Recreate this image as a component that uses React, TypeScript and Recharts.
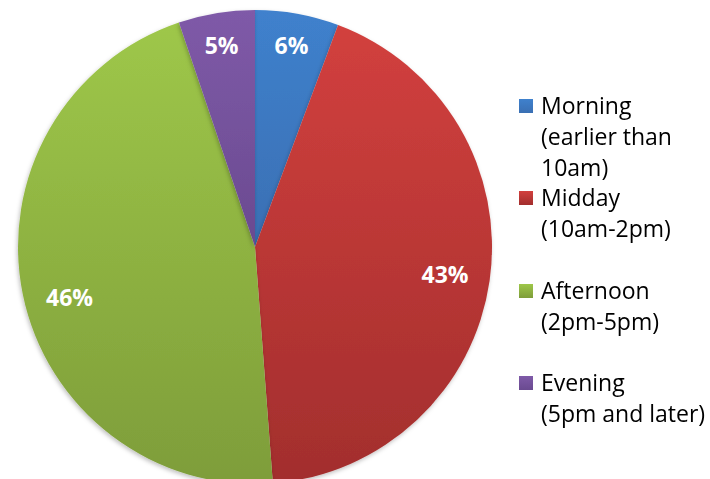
import { Cell, Legend, Pie, PieChart } from "recharts";

const categories = ["Morning", "Midday", "Afternoon", "Evening"];
const legendLines = [
  ["Morning", "(earlier than", "10am)"],
  ["Midday", "(10am-2pm)"],
  ["Afternoon", "(2pm-5pm)"],
  ["Evening", "(5pm and later)"],
];
const shares = [5.7, 43.1, 46.0, 5.2];
const topColors = ["#3F81CD", "#D2403E", "#9EC749", "#7F5AA8"];
const bottomColors = ["#3A6FB3", "#A22E2D", "#7E9D3A", "#6A4A90"];

const data = categories.map((name, i) => ({ name, value: shares[i] }));

const FONT = "'Open Sans', sans-serif";
const RAD = Math.PI / 180;

function renderLabel(props: any) {
  const { cx, cy, midAngle, outerRadius, percent } = props;
  // small slices get their label pushed further out, like Excel does
  const r = outerRadius * (percent < 0.1 ? 0.865 : 0.81);
  const a = midAngle + (percent > 0.45 ? 3.5 : 0);
  const x = cx + r * Math.cos(-a * RAD);
  const y = cy + r * Math.sin(-a * RAD);
  return (
    <text
      x={x}
      y={y}
      fill="#fff"
      textAnchor="middle"
      dominantBaseline="central"
      fontFamily={FONT}
      fontWeight={700}
      fontSize={23}
    >
      {`${Math.round(percent * 100)}%`}
    </text>
  );
}

function LegendBox() {
  return (
    <div style={{ fontFamily: FONT, fontSize: 23, color: "#000" }}>
      {legendLines.map((lines, i) => (
        <div key={i} style={{ position: "relative", height: 92.3, paddingLeft: 22 }}>
          <div
            style={{
              position: "absolute",
              left: 0,
              top: 9,
              width: 14,
              height: 14,
              background: `linear-gradient(${topColors[i]}, ${bottomColors[i]})`,
            }}
          />
          {lines.map((t) => (
            <div key={t} style={{ lineHeight: "31px", whiteSpace: "nowrap" }}>
              {t}
            </div>
          ))}
        </div>
      ))}
    </div>
  );
}

export default function App() {
  return (
    <div style={{ position: "fixed", left: 0, top: 0, background: "#fff" }}>
      <PieChart width={710} height={479} margin={{ top: 0, right: 0, bottom: 0, left: 0 }}>
        <defs>
          {categories.map((c, i) => (
            <linearGradient key={c} id={`grad${i}`} x1="0" y1="0" x2="0" y2="1">
              <stop offset="0%" stopColor={topColors[i]} />
              <stop offset="100%" stopColor={bottomColors[i]} />
            </linearGradient>
          ))}
          <filter id="shadow" x="-10%" y="-10%" width="120%" height="120%">
            <feDropShadow dx="-1" dy="2" stdDeviation="2" floodColor="#000" floodOpacity="0.25" />
          </filter>
        </defs>
        <Pie
          data={data}
          dataKey="value"
          nameKey="name"
          cx={255}
          cy={247}
          outerRadius={237}
          startAngle={90}
          endAngle={-270}
          stroke="none"
          label={renderLabel}
          labelLine={false}
          isAnimationActive={false}
          style={{ filter: "url(#shadow)" }}
        >
          {data.map((d, i) => (
            <Cell key={d.name} fill={`url(#grad${i})`} />
          ))}
        </Pie>
        <Legend
          layout="vertical"
          content={() => <LegendBox />}
          wrapperStyle={{ position: "absolute", left: 519, top: 90, width: 200 }}
        />
      </PieChart>
    </div>
  );
}
